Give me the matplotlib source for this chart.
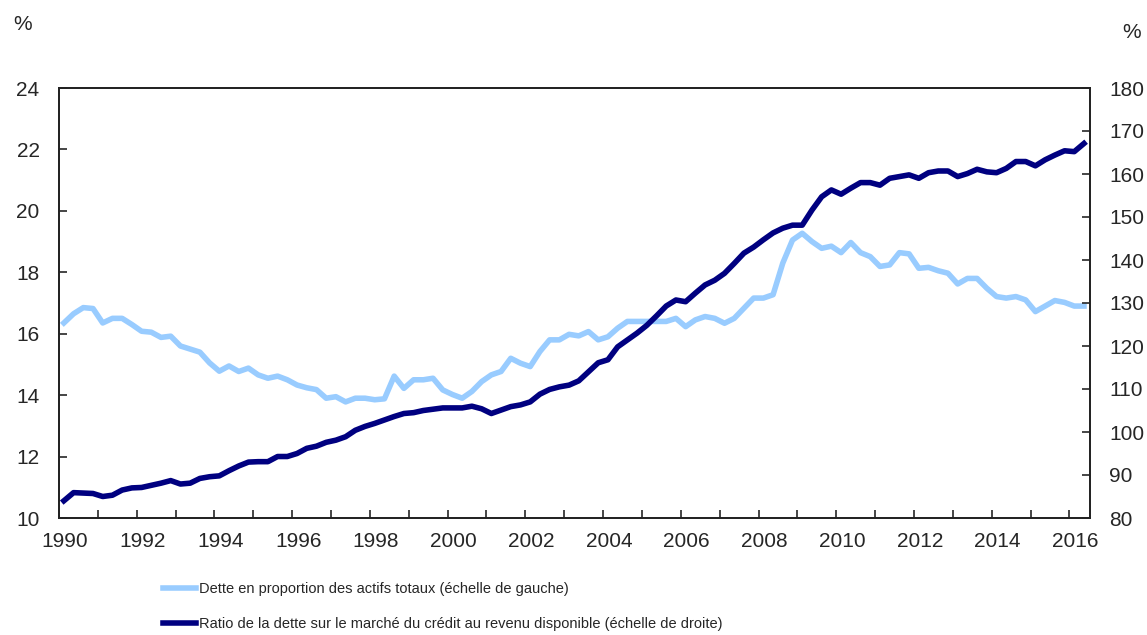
import numpy as np
import matplotlib
matplotlib.use("Agg")
from matplotlib import pyplot as plt
from matplotlib import font_manager
from matplotlib.transforms import ScaledTranslation

plt.rcParams['font.family'] = ['Liberation Sans', 'DejaVu Sans']

# quarterly data, 1990Q1 - 2016Q2
debt_assets = [16.35, 16.65, 16.85, 16.82, 16.35, 16.5, 16.5, 16.3, 16.08, 16.05,
               15.88, 15.92, 15.6, 15.5, 15.4, 15.05, 14.78, 14.95, 14.77, 14.88,
               14.66, 14.55, 14.62, 14.5, 14.33, 14.24, 14.18, 13.9, 13.95, 13.78,
               13.9, 13.9, 13.85, 13.88, 14.62, 14.22, 14.5, 14.5, 14.55, 14.17,
               14.02, 13.9, 14.12, 14.44, 14.66, 14.77, 15.2, 15.04, 14.93, 15.42,
               15.8, 15.8, 15.98, 15.93, 16.07, 15.8, 15.9, 16.18, 16.4, 16.4,
               16.4, 16.4, 16.4, 16.5, 16.23, 16.45, 16.56, 16.5, 16.34, 16.5,
               16.83, 17.16, 17.16, 17.27, 18.3, 19.05, 19.27, 19.0, 18.78, 18.85,
               18.64, 18.97, 18.64, 18.51, 18.19, 18.24, 18.64, 18.6, 18.13, 18.16,
               18.05, 17.97, 17.62, 17.8, 17.8, 17.48, 17.21, 17.16, 17.21, 17.1,
               16.72, 16.9, 17.08, 17.02, 16.9, 16.9]

debt_income = [84.0, 85.9, 85.8, 85.7, 85.0, 85.3, 86.5, 87.0, 87.1, 87.6,
               88.1, 88.7, 87.9, 88.1, 89.2, 89.6, 89.8, 91.0, 92.1, 93.0,
               93.1, 93.1, 94.3, 94.3, 95.0, 96.2, 96.7, 97.6, 98.1, 98.9,
               100.4, 101.3, 102.0, 102.8, 103.6, 104.3, 104.5, 105.0, 105.3, 105.6,
               105.6, 105.6, 106.0, 105.4, 104.3, 105.1, 105.9, 106.3, 107.0, 108.8,
               109.9, 110.5, 110.9, 111.9, 114.0, 116.1, 116.8, 119.8, 121.4, 123.0,
               124.8, 127.0, 129.3, 130.7, 130.3, 132.3, 134.2, 135.3, 136.9, 139.2,
               141.6, 143.0, 144.7, 146.3, 147.4, 148.1, 148.1, 151.6, 154.7, 156.3,
               155.3, 156.7, 158.0, 158.0, 157.4, 159.0, 159.4, 159.8, 159.0, 160.3,
               160.7, 160.7, 159.4, 160.1, 161.1, 160.5, 160.3, 161.3, 162.9, 162.9,
               161.9, 163.3, 164.4, 165.4, 165.2, 167.1]

label_left = "Dette en proportion des actifs totaux (échelle de gauche)"
label_right = "Ratio de la dette sur le marché du crédit au revenu disponible (échelle de droite)"

# points sit at the middle of each quarter
t = 1990 + 0.125 + 0.25 * np.arange(len(debt_assets))

text_col = '#262626'
fig = plt.figure(figsize=(11.47, 6.35), dpi=100)
ax = fig.add_axes([59 / 1147, 1 - 518 / 635, (1090 - 59) / 1147, (518 - 88) / 635])
ax2 = ax.twinx()

l1, = ax.plot(t, debt_assets, color='#99CCFF', lw=4.0, solid_joinstyle='round')
l2, = ax2.plot(t, debt_income, color='#000080', lw=4.0, solid_joinstyle='round')

ax.set_xlim(1990, 2016.53)
ax.set_ylim(10, 24)
ax2.set_ylim(80, 180)
ax.set_yticks(np.arange(10, 25, 2))
ax2.set_yticks(np.arange(80, 181, 10))
ax.set_xticks(np.arange(1990, 2017, 1))
ax.set_xticklabels([str(y) if y % 2 == 0 else '' for y in range(1990, 2017)])

for a in (ax, ax2):
    a.tick_params(direction='in', length=6, width=1.2, labelsize=15, colors=text_col)
    for s in a.spines.values():
        s.set_linewidth(1.3)
        s.set_color('#222222')
ax.tick_params(axis='y', pad=14)
ax2.tick_params(axis='y', pad=14)
ax.tick_params(axis='x', pad=10)

off = ScaledTranslation(6 / 100, 0, fig.dpi_scale_trans)
for lab in ax.get_xticklabels():
    lab.set_transform(lab.get_transform() + off)

fig.text(23 / 1147, 1 - 25 / 635, "%", fontsize=15, color=text_col, ha='center', va='center')
fig.text(1132 / 1147, 1 - 33 / 635, "%", fontsize=15, color=text_col, ha='center', va='center')

# legend text in the source is condensed; use a narrow face if there is one
names = {f.name for f in font_manager.fontManager.ttflist}
if 'Liberation Sans Narrow' in names:
    leg_prop = {'family': ['Liberation Sans Narrow', 'DejaVu Sans'], 'size': 11.5}
else:
    leg_prop = {'family': ['Liberation Sans', 'DejaVu Sans'], 'size': 10.5}
fs_px = leg_prop['size'] * 100 / 72

fig.legend([l1, l2], [label_left, label_right], loc='upper left',
           bbox_to_anchor=(163 / 1147, 1 - 582 / 635), frameon=False,
           handlelength=33 / fs_px, handletextpad=3 / fs_px,
           labelspacing=(38 - 1.17 * fs_px) / fs_px,
           labelcolor=text_col, borderaxespad=0, borderpad=0, prop=leg_prop)

fig.savefig("out.png", dpi=100)
